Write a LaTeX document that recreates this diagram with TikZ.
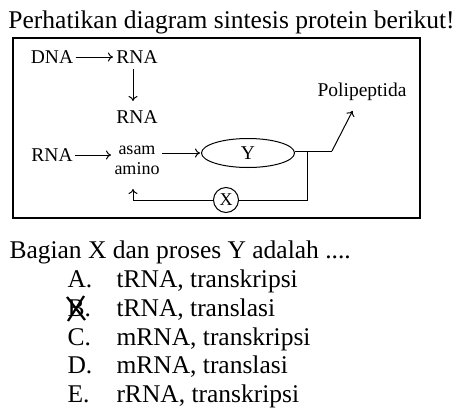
\documentclass[tikz,border=0pt]{standalone}
\usepackage{fontspec}
\setmainfont{Liberation Serif}
\usetikzlibrary{shapes.geometric,arrows.meta}

\begin{document}
\begin{tikzpicture}[x=1pt,y=-1pt,line width=1pt,
  big/.style={font=\fontsize{25.5}{28}\selectfont,inner sep=0pt,anchor=base west},
  lbl/.style={font=\fontsize{19.5}{21}\selectfont,inner sep=2pt},
  arr/.style={-{To[length=5pt,width=9pt]},shorten >=1pt}]
\useasboundingbox (0,0) rectangle (464,413);
% question
\node[big] (judul) at (8,28) {Perhatikan diagram sintesis protein berikut!};
\draw[line width=1.5pt] (13,38) rectangle (420,218);
% diagram
\node[lbl] (dna) at (52,57) {DNA};
\node[lbl] (rna1) at (137,57) {RNA};
\node[lbl] (rna2) at (137,117) {RNA};
\node[lbl] (rna3) at (52,155) {RNA};
\node[lbl,align=center,font=\fontsize{18}{20}\selectfont] (am) at (137,160) {asam\\amino};
\node[lbl,draw,ellipse,minimum width=93pt,minimum height=29pt] (Y) at (248,153) {Y};
\node[lbl,draw,circle,inner sep=1pt,minimum size=25pt,font=\fontsize{18}{20}\selectfont] (X) at (226,200) {X};
\node[lbl] (poli) at (362,92) {Polipeptida};
\coordinate (belok) at (332,151);
\coordinate (ujung) at (353,110);
\coordinate (cabang) at (307,151);
\coordinate (bawah) at (307,200);
\coordinate (kiri) at (133,200);
\coordinate (naik) at (133,188);
\draw[arr] (dna) -- (rna1);
\draw[arr,shorten <=2pt,shorten >=6pt] (133,67) -- (133,107);
\draw[arr] (rna3.east) -- (am.west |- rna3.east);
\draw[arr] (am.east |- Y.west) -- (Y.west);
\draw (Y.east |- belok) -- (belok);
\draw[arr] (belok) -- (ujung);
\draw (cabang) -- (bawah) -- (X.east);
\draw[arr] (X.west) -- (kiri) -- (naik);
% answers
\node[big] (tanya) at (9,258) {Bagian X dan proses Y adalah ....};
\node[big] (a) at (67,287) {A.};
\node[big] (b) at (67,316) {B.};
\node[big] (c) at (67,345) {C.};
\node[big] (d) at (67,373) {D.};
\node[big] (e) at (67,402) {E.};
\node[big] (ta) at (116,287) {tRNA, transkripsi};
\node[big] (tb) at (116,316) {tRNA, translasi};
\node[big] (tc) at (116,345) {mRNA, transkripsi};
\node[big] (td) at (116,373) {mRNA, translasi};
\node[big] (te) at (116,402) {rRNA, transkripsi};
\draw[line width=2.2pt] (67,297) -- (85,320);
\draw[line width=2.2pt] (84,296) -- (68,321);
\end{tikzpicture}
\end{document}
